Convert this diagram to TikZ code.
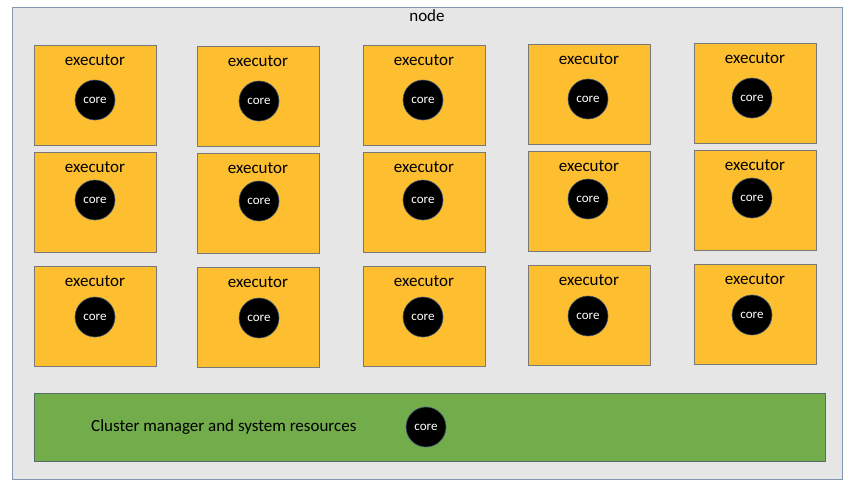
\documentclass[tikz,border=0pt]{standalone}
\usepackage{fontspec}
\setmainfont{Carlito}
\definecolor{nodebg}{RGB}{231,230,230}
\definecolor{nodeline}{RGB}{132,151,176}
\definecolor{execfill}{RGB}{253,190,48}
\definecolor{execline}{RGB}{120,120,120}
\definecolor{greenfill}{RGB}{114,172,75}
\definecolor{greenline}{RGB}{84,110,100}
\definecolor{coreline}{RGB}{70,90,120}
\begin{document}
\begin{tikzpicture}[x=1pt,y=-1pt,
  execbox/.style={draw=execline, line width=0.9pt, fill=execfill},
  coredot/.style={circle, draw=coreline, line width=0.6pt, fill=black, minimum size=40pt, inner sep=0pt, text=white, font=\fontsize{13}{15}\selectfont},
  lbl/.style={font=\fontsize{17}{20}\selectfont, inner sep=0pt}
]
\useasboundingbox (0,0) rectangle (851,488);
\fill[white] (0,0) rectangle (851,488);
% outer node
\draw[draw=nodeline, line width=0.9pt, fill=nodebg] (12,7) rectangle (842,479);
\node[lbl] (nodelabel) at (427,16) {node};
% executors
\foreach \c/\x/\dy/\cx in {1/34/0/61, 2/197/1/62, 3/363/0/60, 4/528/-1/60, 5/694/-2/58}{
  \foreach \r/\y/\cy in {1/45/55, 2/152/48, 3/266/51}{
    \pgfmathsetmacro{\yy}{\y+\dy}
    \draw[execbox] (\x,\yy) rectangle ++(122,100);
    \node[lbl] (ex\c\r) at ({\x+61},{\yy+15}) {executor};
    \node[coredot] (core\c\r) at ({\x+\cx},{\yy+\cy}) {core};
  }
}
% cluster manager
\draw[draw=greenline, line width=0.9pt, fill=greenfill] (34,393) rectangle (825,461);
\node[lbl, anchor=west] (cm) at (91,427) {Cluster manager and system resources};
\node[coredot] (cmcore) at (426,427) {core};
\end{tikzpicture}
\end{document}
